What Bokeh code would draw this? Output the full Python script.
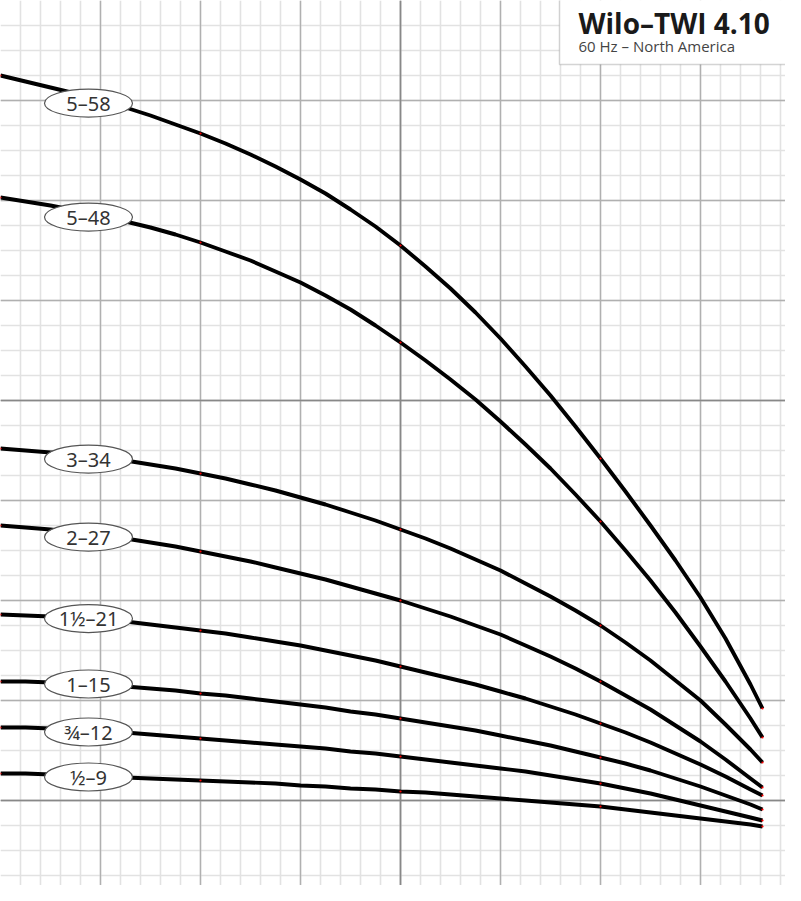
import numpy as np
from bokeh.plotting import figure
from bokeh.models import Range1d, Grid, SingleIntervalTicker, FixedTicker, Label, BoxAnnotation, ColumnDataSource
from bokeh.core.properties import value
from bokeh.embed import file_html
from bokeh.resources import INLINE

# Flow (US gpm) and head (ft)
flow = [0, 1.25, 2.5, 3.75, 5, 6.25, 7.5, 8.75, 10, 11.25, 12.5, 13.75, 15, 16.25,
        17.5, 18.75, 20, 21.25, 22.5, 23.75, 25, 26.25, 27.5, 28.75, 30, 31.25,
        32.5, 33.75, 35, 36.25, 37.5, 38.1]

head_5_58 = [825, 819, 813, 807, 800, 793, 785, 776, 767, 757, 746, 734, 721, 707, 691, 674,
             655, 634, 612, 588, 562, 534, 505, 474, 442, 409, 375, 340, 303, 262, 216, 192]
head_5_48 = [703, 699, 695, 690, 685, 679, 673, 666, 658, 649, 640, 629, 618, 605, 591, 575,
             558, 540, 521, 501, 479, 456, 432, 406, 379, 350, 320, 288, 254, 219, 182, 163]
head_3_34 = [452, 450, 448, 446, 443, 440, 436, 432, 427, 422, 416, 410, 403, 396, 388, 380,
             371, 362, 352, 341, 330, 317, 304, 290, 275, 258, 240, 220, 200, 176, 151, 138]
head_2_27 = [375, 373, 371, 368, 365, 362, 358, 354, 349, 344, 339, 333, 327, 321, 314, 307,
             300, 292, 284, 275, 266, 255, 244, 232, 219, 205, 191, 175, 159, 141, 122, 113]
head_1h_21 = [286, 285, 284, 283, 281, 279, 276, 273, 270, 267, 263, 259, 255, 250, 245, 240,
              234, 228, 222, 216, 209, 202, 194, 186, 177, 168, 158, 147, 136, 124, 111, 105]
head_1_15 = [219, 219, 218, 217, 216, 214, 212, 210, 207, 205, 202, 199, 196, 193, 189, 186,
             182, 178, 174, 170, 165, 160, 155, 149, 143, 137, 130, 122, 114, 105, 96, 91]
head_3q_12 = [173, 173, 172, 171, 170, 168, 166, 164, 162, 160, 158, 156, 154, 152, 149, 147,
              144, 141, 138, 135, 132, 129, 125, 121, 117, 112, 107, 101, 95, 89, 83, 80]
head_h_9 = [127, 127, 126, 125, 124, 123, 122, 121, 120, 119, 118, 117, 115, 114, 112, 111,
            109, 108, 106, 104, 102, 100, 98, 96, 94, 91, 88, 85, 82, 79, 76, 74]

models = ["5–58", "5–48", "3–34", "2–27", "1½–21", "1–15", "¾–12", "½–9"]
heads = [head_5_58, head_5_48, head_3_34, head_2_27, head_1h_21, head_1_15, head_3q_12, head_h_9]

title_text = "Wilo–TWI 4.10"
subtitle_text = "60 Hz – North America"

# --- figure: 1 gpm = 20 px, 1 ft = 1 px ---
p = figure(width=785, height=885, output_backend="svg", toolbar_location=None,
           x_range=Range1d(0, 39.25), y_range=Range1d(15, 900),
           x_axis_type=None, y_axis_type=None, min_border=0)
p.outline_line_color = None
p.background_fill_color = "white"

def add_grid(dim, ticker, color, width):
    g = Grid(dimension=dim, ticker=ticker, grid_line_color=color, grid_line_width=width)
    p.add_layout(g)

add_grid(0, SingleIntervalTicker(interval=1), "#e2e2e2", 1.6)
add_grid(1, SingleIntervalTicker(interval=25), "#e2e2e2", 1.6)
add_grid(0, SingleIntervalTicker(interval=5), "#b0b0b0", 1.4)
add_grid(1, SingleIntervalTicker(interval=100), "#b0b0b0", 1.4)
add_grid(0, FixedTicker(ticks=[0, 20, 40]), "#888888", 1.6)
add_grid(1, FixedTicker(ticks=[100, 500]), "#888888", 1.6)

label_flow = 4.4
label_nudge = [-6, -4, -3, -3, 0, 0, -2, -1]   # screen px shift of each label below its curve
dot_idx = [0, 8, 16, 24, 31]
for name, h in zip(models, heads):
    p.line(flow, h, line_color="black", line_width=3.9, line_join="round")
    p.scatter([flow[i] for i in dot_idx], [h[i] for i in dot_idx], size=2.2,
              fill_color="red", line_color=None)

lab_y = [float(np.interp(label_flow, flow, h)) + d for h, d in zip(heads, label_nudge)]
src = ColumnDataSource(dict(x=[label_flow] * len(models), y=lab_y, t=models))
p.ellipse("x", "y", width=88, height=28, width_units="screen", height_units="screen",
          source=src, fill_color="white", line_color="#555555", line_width=1.2)
p.text("x", "y", text="t", source=src, text_align="center", text_baseline="middle",
       text_font=value("Noto Sans"), text_font_size="20px", text_color="#333333")

box = BoxAnnotation(left=27.95, right=45, top=930, bottom=836, fill_color="white",
                    fill_alpha=1.0, line_color="#707070", line_width=1.5, level="overlay")
p.add_layout(box)
p.add_layout(Label(x=28.9, y=878, text=title_text, text_font="Open Sans",
                   text_font_style="bold", text_font_size="28px", text_color="#1a1a1a",
                   text_baseline="middle", level="overlay"))
p.add_layout(Label(x=28.9, y=855, text=subtitle_text, text_font="Open Sans",
                   text_font_size="15px", text_color="#444444",
                   text_baseline="middle", level="overlay"))

open("out.html", "w").write(file_html(p, INLINE))
